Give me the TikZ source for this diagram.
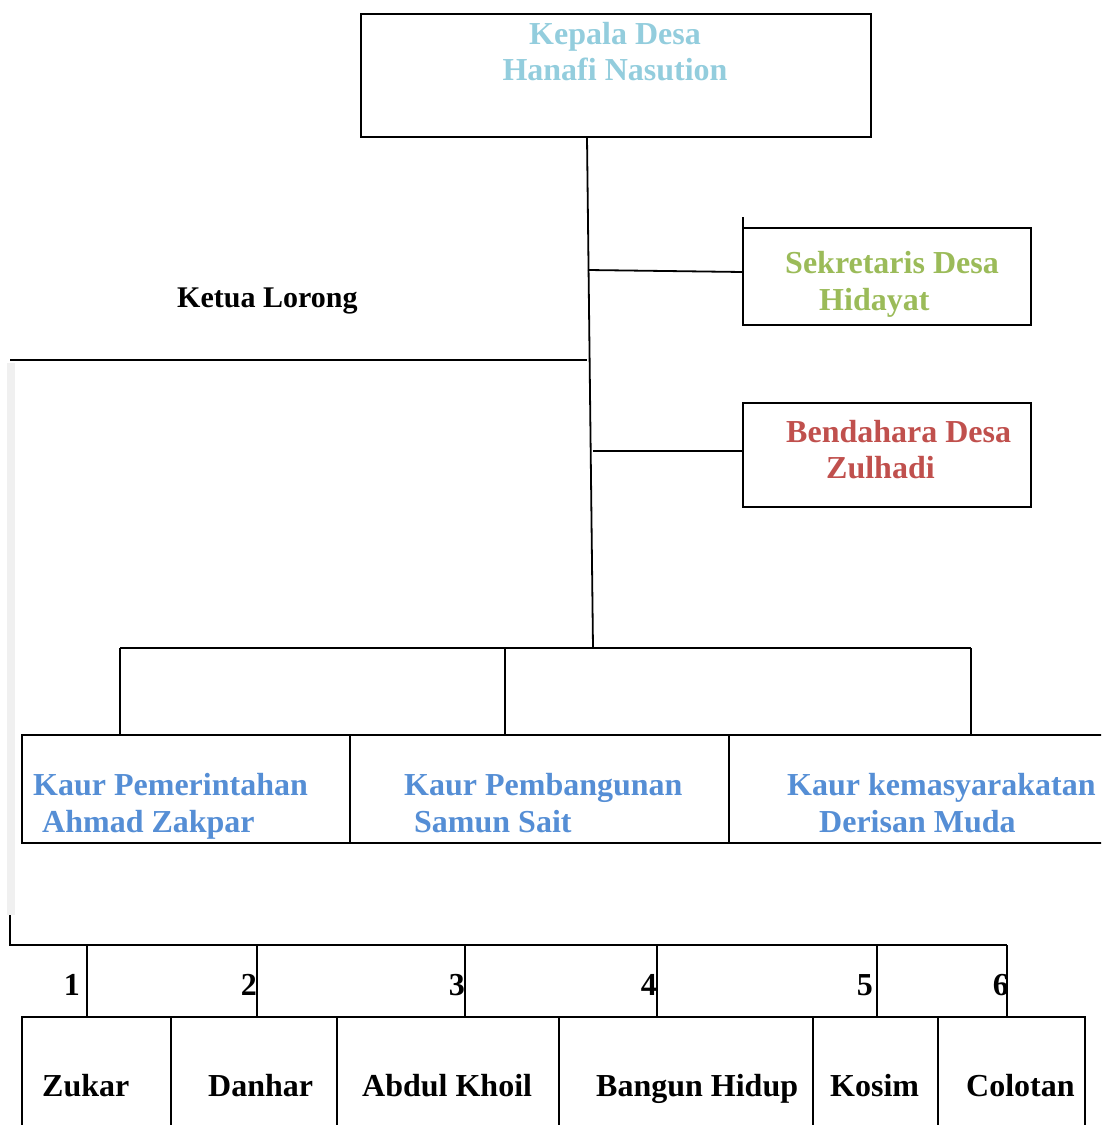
\documentclass[tikz,border=0pt]{standalone}
\usepackage{fontspec}
\setmainfont{Liberation Serif}
\definecolor{cKepala}{HTML}{93CDDD}
\definecolor{cSek}{HTML}{9BBB59}
\definecolor{cBend}{HTML}{C0504D}
\definecolor{cKaur}{HTML}{558ED5}
\definecolor{cBar}{HTML}{F0F0F0}
\tikzset{
  ln/.style={line width=1.8pt, black},
  boxn/.style={draw, line width=1.8pt, rectangle, inner sep=0pt, outer sep=0pt},
  txt/.style={inner sep=0pt, font=\bfseries\fontsize{32}{38}\selectfont, anchor=base west},
  num/.style={inner sep=0pt, font=\bfseries\fontsize{32}{38}\selectfont, anchor=base east}
}
\begin{document}
\begin{tikzpicture}[x=1pt,y=-1pt]
\useasboundingbox (0,0) rectangle (1101,1125);
\clip (0,0) rectangle (1101,1125);
% boxes
\node[boxn, minimum width=510pt, minimum height=123pt, anchor=north west] (kepala) at (361,14) {};
\node[boxn, minimum width=288pt, minimum height=97pt, anchor=north west] (sek) at (743,228) {};
\node[boxn, minimum width=288pt, minimum height=104pt, anchor=north west] (bend) at (743,403) {};
\node[boxn, minimum width=328pt, minimum height=108pt, anchor=north west] (k1) at (22,735) {};
\node[boxn, minimum width=379pt, minimum height=108pt, anchor=north west] (k2) at (350,735) {};
\node[boxn, minimum width=390pt, minimum height=108pt, anchor=north west] (k3) at (729,735) {};
\node[boxn, minimum width=149pt, minimum height=130pt, anchor=north west] (b1) at (22,1017) {};
\node[boxn, minimum width=166pt, minimum height=130pt, anchor=north west] (b2) at (171,1017) {};
\node[boxn, minimum width=222pt, minimum height=130pt, anchor=north west] (b3) at (337,1017) {};
\node[boxn, minimum width=254pt, minimum height=130pt, anchor=north west] (b4) at (559,1017) {};
\node[boxn, minimum width=125pt, minimum height=130pt, anchor=north west] (b5) at (813,1017) {};
\node[boxn, minimum width=147pt, minimum height=130pt, anchor=north west] (b6) at (938,1017) {};
% texts
\node[txt, anchor=base, text=cKepala] (kepT1) at (615,44) {Kepala Desa};
\node[txt, anchor=base, text=cKepala] (kepT2) at (615,80) {Hanafi Nasution};
\node[txt, text=cSek] (sekT1) at (785,273) {Sekretaris Desa};
\node[txt, text=cSek] (sekT2) at (819,310) {Hidayat};
\node[txt, text=cBend] (benT1) at (786,442) {Bendahara Desa};
\node[txt, text=cBend] (benT2) at (826,478) {Zulhadi};
\node[txt, font=\bfseries\fontsize{30}{36}\selectfont] (ketua) at (177,307) {Ketua Lorong};
\node[txt, text=cKaur] (k1T1) at (33,795) {Kaur Pemerintahan};
\node[txt, text=cKaur] (k1T2) at (42,832) {Ahmad Zakpar};
\node[txt, text=cKaur] (k2T1) at (404,795) {Kaur Pembangunan};
\node[txt, text=cKaur] (k2T2) at (414,832) {Samun Sait};
\node[txt, text=cKaur] (k3T1) at (787,795) {Kaur kemasyarakatan};
\node[txt, text=cKaur] (k3T2) at (819,832) {Derisan Muda};
\node[txt] (n1) at (42,1096) {Zukar};
\node[txt] (n2) at (208,1096) {Danhar};
\node[txt] (n3) at (362,1096) {Abdul Khoil};
\node[txt] (n4) at (596,1096) {Bangun Hidup};
\node[txt] (n5) at (830,1096) {Kosim};
\node[txt] (n6) at (966,1096) {Colotan};
\node[num] (d1) at (80,995) {1};
\node[num] (d2) at (257,995) {2};
\node[num] (d3) at (465,995) {3};
\node[num] (d4) at (657,995) {4};
\node[num] (d5) at (873,995) {5};
\node[num] (d6) at (1009,995) {6};
% coordinates
\coordinate (tA) at (587,137);
\coordinate (tB) at (593,648);
\coordinate (tS) at (588,270);
\coordinate (sS) at (743,272);
\coordinate (sTop) at (743,217);
\coordinate (tD) at (593,451);
\coordinate (bD) at (743,451);
\coordinate (hL) at (10,360);
\coordinate (hR) at (587,360);
\coordinate (kL) at (120,648);
\coordinate (kM) at (505,648);
\coordinate (kR) at (971,648);
\coordinate (gL) at (10,915);
\coordinate (gC) at (10,945);
\coordinate (gR) at (1007,945);
% gray bar
\fill[cBar] (7,363) rectangle (15,915);
% connectors
\draw[ln] (tA) -- (tB);
\draw[ln] (tS) -- (sS);
\draw[ln] (sTop) -- (sek.north west);
\draw[ln] (tD) -- (bD);
\draw[ln] (hL) -- (hR);
\draw[ln] (kL) -- (kR);
\draw[ln] (kL) -- (kL |- k1.north);
\draw[ln] (kM) -- (kM |- k2.north);
\draw[ln] (kR) -- (kR |- k3.north);
\draw[ln] (gL) -- (gC) -- (gR);
\foreach \x/\n in {87/1,257/2,465/3,657/4,877/5,1007/6}{
  \coordinate (v\n) at (\x,945);
  \draw[ln] (v\n) -- (v\n |- b1.north);
}
\end{tikzpicture}
\end{document}
